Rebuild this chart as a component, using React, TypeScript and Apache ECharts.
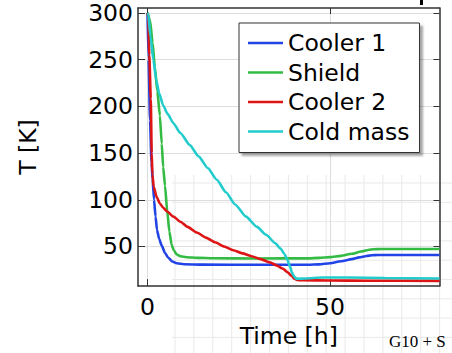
import React, { useEffect, useRef } from "react";
import * as echarts from "echarts";

const seriesNames = ["Cooler 1", "Shield", "Cooler 2", "Cold mass"];
const seriesColors = ["#2244e6", "#33bb44", "#dd1515", "#22cccc"];

const cooler1: number[][] = [
  [0, 300], [0.3, 250], [0.7, 185], [1.1, 140], [1.4, 122], [1.8, 100], [2.2, 82], [2.6, 68],
  [3.2, 58], [3.9, 51], [4.8, 43], [5.7, 38], [6.8, 34], [8, 32], [10, 31], [15, 30.6],
  [30, 30.4], [44, 30.4], [47, 30.9], [50, 32], [53, 34.2], [56, 36.5], [58, 38.3],
  [60, 39.8], [61.5, 40.6], [63, 40.9], [70, 40.9], [80, 40.9],
];
const shield: number[][] = [
  [0, 300], [0.7, 292], [1.4, 268], [2, 243], [2.7, 216], [3.4, 190], [3.9, 160], [4.3, 135],
  [4.8, 115], [5.4, 88], [6, 66], [6.6, 52], [7.2, 46], [8, 41.5], [9, 39.5], [10.7, 38.5],
  [14, 37.8], [18, 37.4], [30, 37.2], [44, 37.3], [47, 37.8], [50, 38.6], [53, 40],
  [56, 42.2], [58.5, 44.6], [60.5, 46.3], [62, 47.1], [64, 47.3], [80, 47.3],
];
const cooler2: number[][] = [
  [0, 300], [0.2, 296], [0.5, 255], [0.9, 208], [1.15, 150], [1.35, 127], [1.7, 114],
  [2.5, 103], [3.4, 96], [4.3, 91.5], [5.4, 87.5], [7.1, 82], [9, 76.5], [11, 71],
  [13.5, 65], [16, 59.5], [18.5, 54.5], [21, 50], [23.5, 46], [26, 42.6], [28.5, 39.6],
  [31, 36.5], [33.5, 33], [35.5, 29.5], [37, 26.5], [38.5, 22], [39.5, 18.5], [40.3, 15.5],
  [41, 14.2], [42, 13.8], [50, 13.6], [60, 13.4], [80, 13.2],
];
const coldMass: number[][] = [
  [0, 300], [0.2, 299], [0.8, 275], [1.6, 250], [2.4, 228], [3.2, 214], [4.3, 201],
  [5.5, 192], [7.1, 182], [9, 171.5], [11.6, 158.5], [14, 146.5], [16.5, 134], [19, 121.5],
  [21.5, 108], [24, 95], [27, 82], [30, 71], [32.5, 62.5], [35, 53.5], [36.5, 47.5],
  [37.5, 42], [38.3, 36], [39, 29], [39.6, 22], [40.2, 17.5], [40.8, 15.6], [41.5, 15.5],
  [43, 15.8], [48, 16.8], [55, 16.8], [65, 16.2], [80, 15.8],
];
const seriesData = [cooler1, shield, cooler2, coldMass];

const xRange = [-2.6, 80];
const yRange = [7.6, 305.3];
const xTickLabels = [0, 50];
const yTickLabels = [50, 100, 150, 200, 250, 300];

const FONT = "DejaVu Sans";
const FS = 23.5;

export default function App() {
  const ref = useRef<HTMLDivElement>(null);
  useEffect(() => {
    if (!ref.current) return;
    const chart = echarts.init(ref.current, undefined, { renderer: "svg" });

    // faint background graph-paper pattern (decoration behind the figure)
    const bg: any[] = [];
    for (let k = 0; k < 15; k++) {
      const x = 175 + 18.9 * k;
      bg.push({ type: "line", z: -10, silent: true, shape: { x1: x, y1: 175, x2: x, y2: 353 }, style: { stroke: "#e9e9e9", lineWidth: 1 } });
    }
    for (let k = 0; k < 10; k++) {
      const y = 183 + 19.3 * k;
      bg.push({ type: "line", z: -10, silent: true, shape: { x1: 172, y1: y, x2: 452, y2: y }, style: { stroke: "#e9e9e9", lineWidth: 1 } });
    }

    chart.setOption({
      animation: false,
      backgroundColor: "#ffffff",
      textStyle: { fontFamily: FONT },
      grid: { left: 138, right: 12.5, top: 8, bottom: 64, containLabel: false },
      legend: {
        orient: "vertical",
        left: 239,
        top: 23,
        padding: [8, 10, 9, 9],
        itemGap: 5.5,
        itemWidth: 35,
        itemHeight: 2.5,
        icon: "rect",
        backgroundColor: "#ffffff",
        borderColor: "#333333",
        borderWidth: 1,
        shadowColor: "rgba(0,0,0,0.35)",
        shadowBlur: 2,
        shadowOffsetX: 3,
        shadowOffsetY: 3,
        textStyle: { fontFamily: FONT, fontSize: FS, color: "#000" },
        data: seriesNames,
      },
      graphic: [
        ...bg,
        { type: "rect", z: 10, shape: { x: 420, y: 0, width: 3, height: 5 }, style: { fill: "#000" } },
        {
          type: "text", z: 10, x: 389, y: 333,
          style: { text: "G10 + S", fontFamily: "Liberation Serif", fontSize: 17, fill: "#000", verticalAlign: "top" },
        },
      ],
      xAxis: [
        {
          type: "value",
          min: xRange[0],
          max: xRange[1],
          splitNumber: 2,
          name: "Time [h]",
          nameLocation: "middle",
          nameGap: 29,
          nameTextStyle: { fontFamily: FONT, fontSize: FS, color: "#000" },
          axisLine: { show: true, onZero: false, lineStyle: { color: "#333", width: 1.5 } },
          axisTick: { show: true, inside: true, length: 7, customValues: xTickLabels, lineStyle: { color: "#333" } },
          axisLabel: { customValues: xTickLabels, margin: 9, fontFamily: FONT, fontSize: FS, color: "#000" },
          splitLine: { show: true, lineStyle: { color: "#dddddd", width: 1 } },
        },
        {
          type: "value",
          position: "top",
          min: xRange[0],
          max: xRange[1],
          splitNumber: 2,
          axisLine: { show: true, onZero: false, lineStyle: { color: "#333", width: 1.5 } },
          axisTick: { show: true, inside: true, length: 6, customValues: xTickLabels, lineStyle: { color: "#333" } },
          axisLabel: { show: false },
          splitLine: { show: false },
        },
      ],
      yAxis: [
        {
          type: "value",
          min: yRange[0],
          max: yRange[1],
          splitNumber: 5,
          name: "T [K]",
          nameLocation: "middle",
          nameGap: 98,
          nameRotate: 90,
          nameTextStyle: { fontFamily: FONT, fontSize: FS, color: "#000" },
          axisLine: { show: true, onZero: false, lineStyle: { color: "#333", width: 1.5 } },
          axisTick: { show: true, inside: true, length: 7, customValues: yTickLabels, lineStyle: { color: "#333" } },
          axisLabel: { customValues: yTickLabels, margin: 5, fontFamily: FONT, fontSize: FS, color: "#000" },
          splitLine: { show: true, lineStyle: { color: "#dddddd", width: 1 } },
        },
        {
          type: "value",
          position: "right",
          min: yRange[0],
          max: yRange[1],
          splitNumber: 5,
          axisLine: { show: true, onZero: false, lineStyle: { color: "#333", width: 1.5 } },
          axisTick: { show: true, inside: true, length: 6, customValues: yTickLabels, lineStyle: { color: "#333" } },
          axisLabel: { show: false },
          splitLine: { show: false },
        },
      ],
      series: seriesNames.map((name, i) => ({
        name,
        type: "line",
        xAxisIndex: 0,
        yAxisIndex: 0,
        data: seriesData[i],
        showSymbol: false,
        symbol: "none",
        smooth: 0.2,
        smoothMonotone: "x",
        color: seriesColors[i],
        lineStyle: { color: seriesColors[i], width: 2.6 },
        z: 3,
      })),
    });
    return () => chart.dispose();
  }, []);
  return <div ref={ref} style={{ position: "absolute", left: 0, top: 0, width: 452, height: 353 }} />;
}
